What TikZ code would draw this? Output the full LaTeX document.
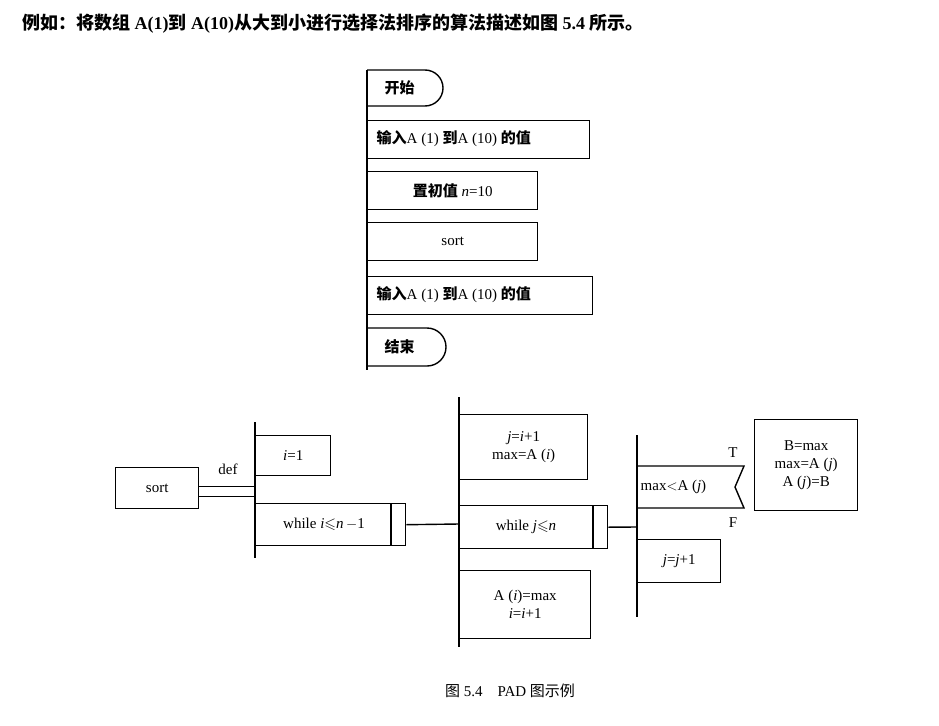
\documentclass[tikz,border=0pt]{standalone}
\usepackage{amssymb}
\usepackage{fontspec}
\setmainfont{Liberation Serif}
\newfontfamily\cjk{Noto Sans CJK SC}
\begin{document}
\begin{tikzpicture}[x=1pt,y=-1pt,line width=1.4pt,
  bx/.style={draw,anchor=north west,minimum height=0pt,inner sep=0pt,align=center,font=\fontsize{15}{18}\selectfont},
  lbl/.style={font=\fontsize{15}{18}\selectfont,inner sep=0pt}]
\useasboundingbox (0,0) rectangle (939,725);
\fill[white] (0,0) rectangle (939,725);
\node[anchor=west,font=\fontsize{18}{20}\selectfont\bfseries] (title) at (18,24) {{\cjk 例如：将数组} A(1){\cjk 到} A(10){\cjk 从大到小进行选择法排序的算法描述如图} 5.4 {\cjk 所示。}};
% top PAD
\coordinate (t0) at (367,70); \coordinate (t1) at (367,370);
\draw (t0) -- (t1);
\draw (367,70) -- (425,70) arc[start angle=-90,end angle=90,radius=18] -- (367,106);
\node[lbl,anchor=west] (start) at (384,88) {\cjk\bfseries 开始};
\node[bx,minimum width=222pt,minimum height=38pt] (in1) at (367,120) {};
\node[lbl,anchor=west] at (376,139) {{\cjk\bfseries 输入}A (1) {\cjk\bfseries 到}A (10) {\cjk\bfseries 的值}};
\node[bx,minimum width=170pt,minimum height=38pt] (init) at (367,171) {{\cjk\bfseries 置初值} \textit{n}=10};
\node[bx,minimum width=170pt,minimum height=38pt] (sorttop) at (367,222) {sort};
\node[bx,minimum width=225pt,minimum height=38pt] (in2) at (367,276) {};
\node[lbl,anchor=west] at (376,295) {{\cjk\bfseries 输入}A (1) {\cjk\bfseries 到}A (10) {\cjk\bfseries 的值}};
\draw (367,328) -- (427,328) arc[start angle=-90,end angle=90,radius=19] -- (367,366);
\node[lbl,anchor=west] (end) at (384,347) {\cjk\bfseries 结束};
% bottom PAD
\node[bx,minimum width=83pt,minimum height=41pt] (sort) at (115,467) {sort};
\coordinate (v1a) at (255,422); \coordinate (v1b) at (255,558);
\draw (v1a) -- (v1b);
\draw[line width=1pt] (sort.east |- 0,486) -- (255,486) (sort.east |- 0,496) -- (255,496);
\node[lbl] at (228,469) {def};
\node[bx,minimum width=75pt,minimum height=40pt] (i1) at (255,435) {\textit{i}=1};
\node[bx,minimum width=150pt,minimum height=42pt] (wi) at (255,503) {};
\draw (391,503) -- (391,545);
\node[lbl] at (324,524) {while \textit{i}$\leqslant$\textit{n}\,$-$1};
\coordinate (v2a) at (459,397); \coordinate (v2b) at (459,647);
\draw (v2a) -- (v2b);
\draw (wi.east) -- (459,524);
\node[bx,minimum width=128pt,minimum height=65pt] (ji) at (459,414) {\textit{j}=\textit{i}+1\\max=A (\textit{i})};
\node[bx,minimum width=148pt,minimum height=43pt] (wj) at (459,505) {};
\draw (593,505) -- (593,548);
\node[lbl] at (526,527) {while \textit{j}$\leqslant$\textit{n}};
\node[bx,minimum width=131pt,minimum height=68pt] (ai) at (459,570) {A (\textit{i})=max\\\textit{i}=\textit{i}+1};
\coordinate (v3a) at (637,435); \coordinate (v3b) at (637,617);
\draw (v3a) -- (v3b);
\draw (wj.east) -- (637,527);
\draw (637,466) -- (744,466) -- (735,487) -- (744,508) -- (637,508);
\node[lbl,anchor=west] (cond) at (640,487) {max$<$A (\textit{j})};
\node[lbl] (T) at (733,453) {T};
\node[lbl] (F) at (733,523) {F};
\node[bx,minimum width=83pt,minimum height=43pt] (jj) at (637,539) {\textit{j}=\textit{j}+1};
\node[bx,minimum width=103pt,minimum height=91pt] (bm) at (754,419) {B=max\\max=A (\textit{j})\\A (\textit{j})=B};
\node[lbl] (cap) at (510,691) {{\cjk 图} 5.4\quad PAD {\cjk 图示例}};
\end{tikzpicture}
\end{document}
